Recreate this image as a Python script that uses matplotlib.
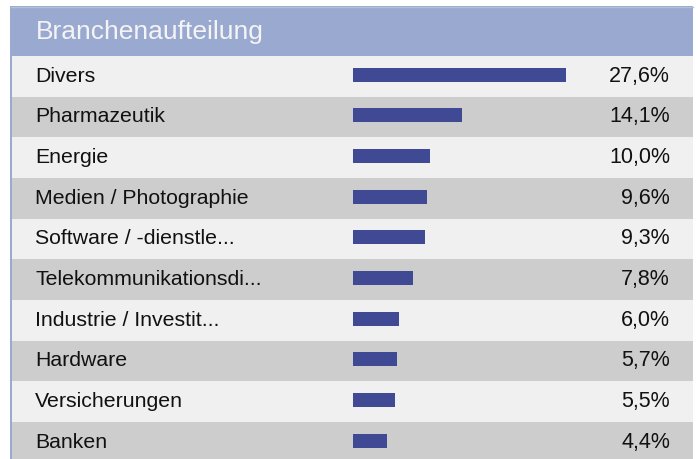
import matplotlib
matplotlib.use('Agg')
import matplotlib.pyplot as plt
import numpy as np

# Chart data
title = 'Branchenaufteilung'
categories = ['Divers', 'Pharmazeutik', 'Energie', 'Medien / Photographie',
              'Software / -dienstle...', 'Telekommunikationsdi...',
              'Industrie / Investit...', 'Hardware', 'Versicherungen', 'Banken']
shares = [27.6, 14.1, 10.0, 9.6, 9.3, 7.8, 6.0, 5.7, 5.5, 4.4]

W, H = 698, 460
ROW_H = 40.67          # pixel height of one row
PX_PER_PCT = 7.75      # bar length per percent point
BAR_X0 = 352.5         # left end of the bars, in pixels
TOP = 57               # first row starts here

HEADER = '#9aa9d0'
LIGHT = '#f0f0f0'
DARK = '#cdcdcd'
BAR = '#404a94'

plt.rcParams['font.family'] = ['Liberation Sans', 'DejaVu Sans']

fig = plt.figure(figsize=(W / 100, H / 100), dpi=100)
ax = fig.add_axes([0, 0, 1, 1])


def px(x):
    """ Pixel x -> percent units of the bar axis. """
    return (x - BAR_X0) / PX_PER_PCT


def py(y):
    """ Pixel y -> row units. """
    return (y - TOP) / ROW_H


ax.set_xlim(px(0), px(W))
ax.set_ylim(py(H), py(0))
ax.axis('off')

rows = np.arange(len(categories))
centers = rows + 0.5

# Header band and the thin left strip
ax.barh(py(7) / 2, px(693) - px(10), left=px(10), height=-py(7),
        color=HEADER, linewidth=0)
ax.plot([px(11), px(693)], [py(7.5), py(7.5)], color='#b3bedd', lw=1)
ax.barh((py(H) + 0) / 2, px(12) - px(10), left=px(10), height=py(H),
        color=HEADER, linewidth=0)
ax.text(px(36), py(32), title, color='#f4f4f4', fontsize=19,
        va='center', ha='left')

# Alternating row backgrounds
row_colors = [LIGHT if i % 2 == 0 else DARK for i in rows]
ax.barh(centers, px(693) - px(12), left=px(12), height=1.0,
        color=row_colors, linewidth=0)

# Bars
ax.barh(centers - 0.04, shares, left=0, height=14 / ROW_H,
        color=BAR, linewidth=0)

for c, name, val in zip(centers, categories, shares):
    ax.text(px(35), c - 0.03, name, fontsize=15.3, va='center', ha='left',
            color='#111111')
    ax.text(px(670), c - 0.03, f'{val:.1f}%'.replace('.', ','), fontsize=15.5,
            va='center', ha='right', color='#111111')

fig.savefig('out.png', dpi=100, facecolor='white')
